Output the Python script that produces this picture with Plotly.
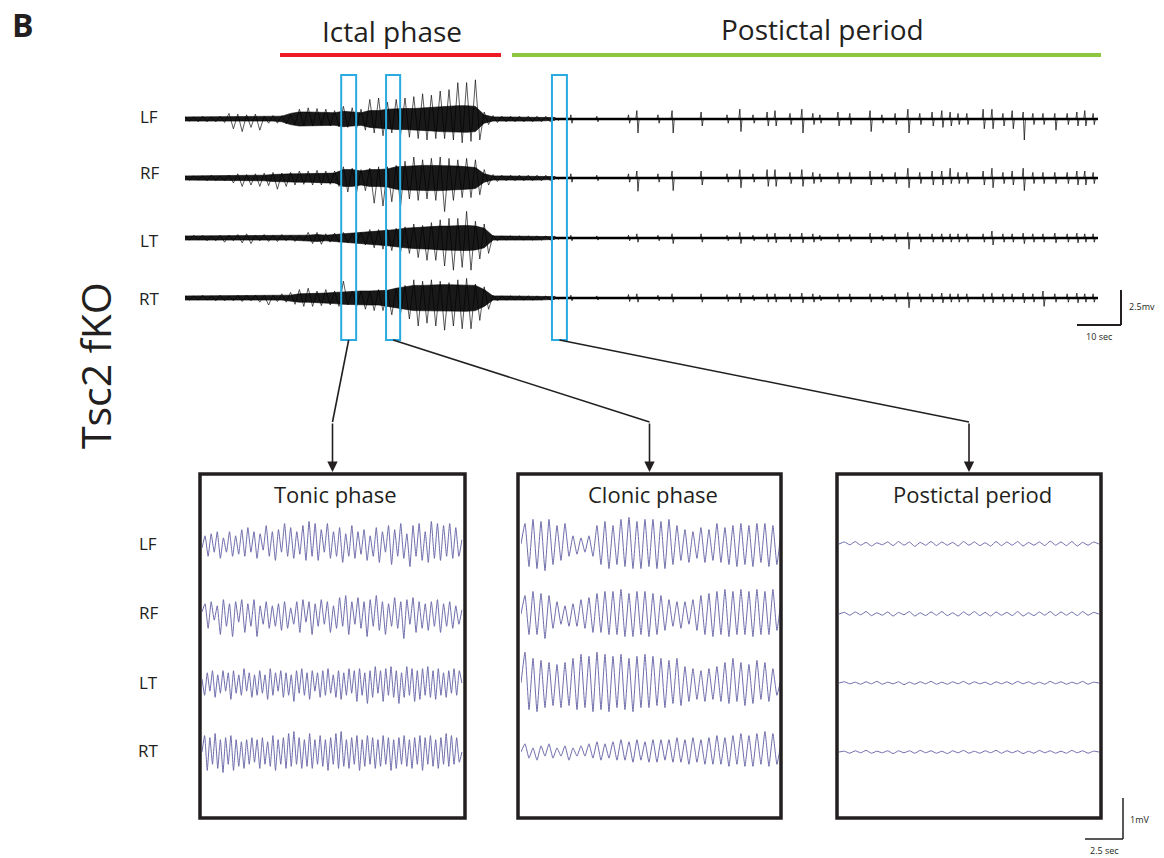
import numpy as np
import plotly.graph_objects as go

# ---------------- DATA ----------------
channels = ["LF", "RF", "LT", "RT"]

# Top overview: envelope of the dense EEG (mV) on a 2-s grid, 0..84 s
env_t = np.arange(0, 86, 2)
# spike extremes (up / down) per 2-s bin
env_LF_up = [.15,.15,.2,.15,.2,.4,.35,.3,.35,.2,.25,.25,.3,.7,.8,.75,.7,.6,.9,.8,.7,1.4,1.5,1.2,1.4,1.5,1.6,1.8,1.7,2.0,2.1,2.6,2.6,2.8,.5,.25,.2,.2,.2,.2,.2,.2,.12]
env_LF_dn = [.15,.2,.2,.2,.25,.7,.9,.6,.8,.3,.3,.35,.4,.5,.5,.45,.5,.55,.6,.65,.8,1.0,1.2,1.0,1.1,1.3,1.4,1.5,1.4,1.4,1.5,1.7,1.6,1.5,.4,.25,.2,.2,.2,.2,.2,.2,.12]
env_RF_up = [.15,.15,.15,.2,.15,.2,.3,.25,.3,.35,.4,.35,.4,.5,.5,.55,.5,.5,.8,.7,.6,.7,.8,.8,.9,1.2,1.5,1.3,1.4,1.5,1.4,1.3,1.4,1.3,.6,.25,.2,.2,.2,.2,.2,.2,.12]
env_RF_dn = [.15,.15,.2,.2,.2,.35,.6,.5,.6,.55,.8,.6,.5,.45,.5,.5,.45,.6,1.0,1.0,.9,1.8,2.0,1.7,2.0,1.5,1.6,1.5,1.6,2.4,1.6,1.4,1.4,1.2,.5,.25,.2,.2,.2,.2,.2,.2,.12]
env_LT_up = [.15,.2,.2,.15,.2,.2,.25,.3,.2,.25,.2,.25,.2,.2,.4,.4,.3,.35,.4,.3,.4,.6,.6,.6,.7,.8,1.0,.9,1.1,1.3,1.4,1.4,1.9,1.2,1.0,.2,.15,.15,.15,.15,.15,.15,.12]
env_LT_dn = [.15,.15,.2,.2,.3,.2,.35,.4,.2,.25,.25,.2,.25,.2,.4,.45,.3,.3,.35,.4,.5,.7,.8,.9,1.0,1.1,1.4,1.6,1.6,2.0,2.3,2.1,2.3,1.5,1.1,.2,.15,.15,.15,.15,.15,.15,.12]
env_RT_up = [.15,.15,.2,.15,.2,.15,.2,.2,.2,.2,.2,.3,.4,.6,.7,.5,.6,.5,1.2,.5,.5,.5,.6,.5,.7,.9,1.3,1.2,1.3,1.2,1.1,1.3,1.4,1.0,.8,.2,.15,.15,.15,.15,.15,.15,.12]
env_RT_dn = [.15,.15,.15,.2,.2,.2,.25,.2,.3,.5,.25,.3,.45,.6,.6,.55,.5,.6,.5,.6,.8,.9,.9,1.2,1.1,1.5,2.0,1.8,2.0,2.3,2.0,2.2,2.2,1.6,.8,.2,.15,.15,.15,.15,.15,.15,.12]
# half-width of the dense (solid black) core per 2-s bin
core_LF = [.15,.15,.15,.15,.15,.2,.2,.2,.2,.15,.15,.2,.4,.5,.5,.5,.45,.45,.55,.5,.45,.6,.6,.7,.75,.75,.75,.8,.85,.9,.9,.95,.95,.9,.3,.15,.15,.15,.15,.15,.15,.15,.1]
core_RF = [.15,.15,.15,.15,.15,.15,.2,.2,.2,.2,.25,.3,.3,.3,.3,.3,.35,.35,.6,.6,.5,.6,.6,.65,.8,.85,.85,.9,.9,.9,.85,.85,.8,.75,.3,.15,.15,.15,.15,.15,.15,.15,.1]
core_LT = [.15,.15,.15,.15,.15,.15,.15,.15,.15,.15,.15,.15,.15,.2,.2,.25,.2,.25,.3,.3,.35,.45,.5,.55,.6,.7,.75,.8,.8,.85,.85,.9,.9,.85,.7,.15,.15,.15,.15,.15,.15,.15,.1]
core_RT = [.15,.15,.15,.15,.15,.15,.15,.15,.15,.15,.15,.15,.2,.3,.3,.3,.35,.4,.45,.45,.5,.5,.5,.55,.7,.8,.9,.9,.95,.95,.95,.95,.95,.9,.6,.15,.15,.15,.15,.15,.15,.15,.1]

record_end_s = 207.5

# Postictal interictal spikes (s) and their up / down extents (mV)
spk_t = [87.7, 93.6, 100.8, 102.7, 107.5, 110.7, 117.3, 123.2, 126.1, 129.1, 132.3, 134.1, 137.5, 140.2,
         142.7, 144.3, 148.4, 151.1, 155.7, 158.4, 161.4, 164.3, 167.0, 169.8, 172.0, 173.9, 175.7, 177.7,
         181.4, 183.4, 185.9, 188.0, 190.5, 192.7, 195.0, 197.7, 200.5, 202.7, 204.5, 206.4]
spk_LF_up = [.3,.2,.3,.6,.3,.6,.5,.3,.7,.3,.5,.6,.4,.7,.4,.3,.5,.4,.6,.3,.4,.7,.4,.5,.6,.5,.4,.4,.7,.7,.4,.6,.5,.4,.4,.4,.4,.5,.6,.4]
spk_LF_dn = [.3,.2,.3,1.0,.3,1.0,.5,.3,.9,.3,.5,.5,.4,1.0,.4,.3,.5,.4,.9,.3,.4,1.0,.4,.5,.6,.5,.4,.4,.7,.7,.5,.7,1.5,.4,.4,.8,.4,.5,.5,.4]
spk_RF_up = [.3,.2,.3,.5,.3,.5,.5,.3,.6,.3,.6,.6,.4,.6,.4,.3,.4,.4,.5,.3,.4,.7,.4,.5,.5,.7,.4,.4,.5,.7,.4,.5,.7,.4,.4,.4,.4,.5,.5,.4]
spk_RF_dn = [.3,.2,.3,.95,.3,.9,.5,.3,.7,.3,.6,.6,.4,.6,.4,.3,.4,.4,.5,.3,.4,.7,.4,.5,.5,.4,.4,.4,.5,.7,.4,.5,.9,.4,.4,.4,.4,.5,.5,.4]
spk_LT_up = [.2,.15,.2,.3,.2,.3,.3,.2,.4,.2,.3,.35,.3,.35,.3,.2,.3,.25,.35,.2,.3,.4,.3,.3,.3,.3,.3,.3,.3,.5,.3,.3,.35,.3,.3,.35,.3,.35,.3,.3]
spk_LT_dn = [.2,.15,.2,.3,.2,.4,.3,.2,.4,.2,.3,.35,.3,.35,.3,.2,.3,.25,.35,.2,.3,.8,.3,.3,.3,.3,.3,.3,.3,.5,.3,.3,.4,.3,.3,.35,.3,.35,.3,.3]
spk_RT_up = [.2,.15,.25,.3,.2,.3,.3,.25,.35,.2,.3,.3,.3,.35,.3,.2,.3,.3,.3,.2,.3,.4,.3,.3,.35,.3,.3,.3,.3,.35,.3,.3,.35,.3,.5,.3,.3,.35,.3,.3]
spk_RT_dn = [.2,.15,.25,.3,.2,.3,.3,.25,.35,.2,.3,.3,.3,.35,.3,.2,.3,.3,.3,.2,.3,.7,.3,.3,.35,.3,.3,.3,.3,.35,.3,.3,.35,.3,.6,.3,.3,.35,.3,.3]

# Zoom windows (s) shown by the blue boxes
zoom_windows = [(35.5, 38.9), (45.7, 48.9), (83.4, 86.8)]
panel_titles = ["Tonic phase", "Clonic phase", "Postictal period"]

# Expanded windows: alternating peak / trough values (mV) over 17.1 s
window_len_s = 17.1
tonic_LF = [-0.1,0.2,-0.3,0.25,-0.2,0.3,-0.35,0.15,-0.2,0.3,-0.3,0.2,-0.25,0.35,-0.3,0.4,-0.2,0.3,-0.35,0.25,-0.15,0.45,-0.3,0.3,-0.4,0.35,-0.2,0.5,-0.3,0.4,-0.35,0.3,-0.25,0.45,-0.4,0.55,-0.3,0.5,-0.4,0.35,-0.2,0.5,-0.35,0.3,-0.3,0.4,-0.45,0.25,-0.3,0.45,-0.35,0.3,-0.25,0.35,-0.4,0.2,-0.3,0.4,-0.45,0.3,-0.2,0.45,-0.5,0.35,-0.3,0.5,-0.35,0.25,-0.55,0.45,-0.3,0.5,-0.4,0.3,-0.45,0.55,-0.35,0.5,-0.4,0.45,-0.3,0.5,-0.35,0.4,-0.3,0.1]
tonic_RF = [0.05,0.25,-0.35,0.3,-0.15,0.2,-0.5,0.35,-0.3,0.25,-0.55,0.3,-0.2,0.35,-0.45,0.25,-0.3,0.35,-0.55,0.2,-0.25,0.3,-0.35,0.2,-0.3,0.25,-0.4,0.3,-0.35,0.15,-0.25,0.3,-0.45,0.35,-0.2,0.3,-0.5,0.25,-0.3,0.35,-0.25,0.3,-0.45,0.2,-0.35,0.4,-0.3,0.45,-0.5,0.3,-0.25,0.4,-0.35,0.3,-0.55,0.35,-0.3,0.45,-0.4,0.3,-0.5,0.25,-0.3,0.4,-0.35,0.3,-0.6,0.35,-0.25,0.4,-0.45,0.3,-0.35,0.25,-0.4,0.3,-0.3,0.35,-0.45,0.25,-0.3,0.3,-0.35,0.2,-0.25,0.1]
tonic_LT = [0.1,-0.3,0.25,-0.2,0.3,-0.35,0.2,-0.25,0.3,-0.2,0.25,-0.4,0.3,-0.25,0.2,-0.3,0.35,-0.2,0.25,-0.35,0.2,-0.3,0.3,-0.25,0.2,-0.4,0.35,-0.3,0.25,-0.2,0.3,-0.35,0.25,-0.3,0.2,-0.45,0.3,-0.25,0.35,-0.3,0.25,-0.4,0.3,-0.2,0.25,-0.35,0.3,-0.3,0.35,-0.25,0.2,-0.35,0.3,-0.4,0.25,-0.3,0.35,-0.25,0.3,-0.45,0.35,-0.3,0.25,-0.5,0.3,-0.35,0.4,-0.25,0.3,-0.45,0.35,-0.3,0.4,-0.35,0.3,-0.5,0.25,-0.35,0.4,-0.3,0.35,-0.45,0.3,-0.4,0.35,-0.3,0.4,-0.35,0.3,-0.4,0.35,-0.3,0.25,-0.35,0.3,-0.25,0.35,-0.3,0.3,0.0]
tonic_RT = [0.0,0.4,-0.45,0.35,-0.3,0.45,-0.4,0.3,-0.5,0.35,-0.3,0.4,-0.45,0.3,-0.35,0.25,-0.4,0.3,-0.3,0.35,-0.25,0.3,-0.4,0.35,-0.3,0.25,-0.35,0.4,-0.45,0.3,-0.3,0.35,-0.4,0.45,-0.35,0.5,-0.3,0.35,-0.4,0.3,-0.35,0.45,-0.4,0.3,-0.3,0.4,-0.35,0.3,-0.45,0.35,-0.3,0.45,-0.4,0.5,-0.35,0.3,-0.4,0.35,-0.3,0.4,-0.45,0.3,-0.35,0.4,-0.3,0.35,-0.4,0.3,-0.35,0.4,-0.3,0.35,-0.45,0.3,-0.4,0.35,-0.3,0.4,-0.35,0.3,-0.4,0.35,-0.3,0.4,-0.45,0.35,-0.3,0.4,-0.35,0.3,-0.4,0.35,-0.3,0.45,-0.35,0.4,-0.3,0.35,-0.25,0.0]
clonic_LF = [0.0,0.5,-0.55,0.6,-0.6,0.55,-0.65,0.6,-0.5,0.45,-0.4,0.5,-0.3,0.2,-0.25,0.15,-0.2,0.2,-0.3,0.45,-0.5,0.55,-0.6,0.45,-0.5,0.6,-0.55,0.65,-0.6,0.55,-0.6,0.6,-0.55,0.6,-0.6,0.55,-0.6,0.6,-0.5,0.45,-0.4,0.35,-0.45,0.3,-0.35,0.4,-0.45,0.35,-0.4,0.5,-0.45,0.4,-0.5,0.45,-0.55,0.5,-0.5,0.45,-0.55,0.5,-0.45,0.5,-0.55,0.45,-0.5,0.3]
clonic_RF = [0.0,0.45,-0.5,0.55,-0.5,0.5,-0.6,0.45,-0.35,0.3,-0.25,0.2,-0.3,0.25,-0.3,0.35,-0.35,0.4,-0.45,0.5,-0.45,0.55,-0.5,0.55,-0.5,0.6,-0.55,0.5,-0.55,0.55,-0.5,0.55,-0.55,0.5,-0.5,0.45,-0.4,0.35,-0.3,0.3,-0.35,0.3,-0.25,0.35,-0.4,0.45,-0.5,0.5,-0.55,0.55,-0.5,0.6,-0.55,0.55,-0.5,0.6,-0.5,0.55,-0.55,0.6,-0.5,0.55,-0.5,0.6,-0.4,0.3]
clonic_LT = [0.0,0.75,-0.65,0.6,-0.7,0.55,-0.6,0.5,-0.55,0.45,-0.6,0.5,-0.55,0.6,-0.65,0.7,-0.6,0.65,-0.7,0.75,-0.65,0.7,-0.7,0.65,-0.6,0.7,-0.65,0.6,-0.7,0.65,-0.6,0.7,-0.6,0.65,-0.55,0.6,-0.6,0.55,-0.5,0.6,-0.55,0.4,-0.45,0.35,-0.4,0.3,-0.45,0.35,-0.4,0.4,-0.45,0.5,-0.5,0.6,-0.45,0.5,-0.55,0.45,-0.5,0.55,-0.4,0.5,-0.45,0.35,-0.3,0.1]
clonic_RT = [0.0,0.2,-0.15,0.1,-0.2,0.15,-0.1,0.2,-0.15,0.1,-0.1,0.15,-0.2,0.1,-0.1,0.15,-0.1,0.2,-0.15,0.25,-0.2,0.2,-0.15,0.25,-0.2,0.3,-0.2,0.25,-0.25,0.3,-0.2,0.25,-0.25,0.3,-0.25,0.3,-0.2,0.3,-0.25,0.35,-0.25,0.3,-0.3,0.35,-0.25,0.3,-0.3,0.35,-0.3,0.4,-0.3,0.35,-0.35,0.4,-0.3,0.45,-0.35,0.4,-0.35,0.45,-0.3,0.5,-0.35,0.45,-0.3,0.2]
post_LF = [0.0,0.05,-0.02,0.06,-0.03,0.04,-0.05,0.03,-0.02,0.05,-0.04,0.06,-0.03,0.05,-0.06,0.04,-0.03,0.06,-0.04,0.05,-0.03,0.04,-0.05,0.06,-0.03,0.05,-0.04,0.03,-0.05,0.06,-0.04,0.05,-0.03,0.06,-0.05,0.04,-0.03,0.05,-0.04,0.07,-0.03,0.05,-0.04,0.06,-0.05,0.04,-0.03,0.05,0.0]
post_RF = [0.0,0.04,-0.03,0.05,-0.02,0.06,-0.04,0.03,-0.03,0.05,-0.05,0.04,-0.02,0.06,-0.05,0.03,-0.04,0.05,-0.03,0.06,-0.04,0.03,-0.05,0.05,-0.03,0.06,-0.04,0.04,-0.05,0.05,-0.03,0.04,-0.04,0.06,-0.05,0.03,-0.04,0.05,-0.03,0.06,-0.04,0.05,-0.03,0.05,-0.04,0.06,-0.03,0.04,0.0]
post_LT = [0.0,0.03,-0.02,0.02,-0.03,0.03,-0.02,0.04,-0.03,0.02,-0.02,0.03,-0.04,0.02,-0.03,0.03,-0.02,0.04,-0.03,0.02,-0.03,0.03,-0.02,0.04,-0.03,0.03,-0.02,0.02,-0.04,0.03,-0.02,0.03,-0.03,0.04,-0.02,0.03,-0.03,0.02,-0.03,0.04,-0.02,0.03,-0.03,0.02,-0.02,0.04,-0.03,0.02,0.0]
post_RT = [0.0,0.02,-0.03,0.03,-0.02,0.04,-0.03,0.02,-0.02,0.03,-0.04,0.03,-0.02,0.03,-0.03,0.04,-0.02,0.03,-0.03,0.02,-0.04,0.03,-0.02,0.04,-0.03,0.02,-0.03,0.03,-0.02,0.04,-0.03,0.03,-0.02,0.03,-0.04,0.02,-0.03,0.04,-0.02,0.03,-0.03,0.02,-0.03,0.04,-0.02,0.03,-0.03,0.02,0.0]

# ---------------- LAYOUT HELPERS ----------------
W, H = 1164, 858
TOP_PX_PER_S, TOP_PX_PER_MV = 4.4, 14.0
BOT_PX_PER_S, BOT_PX_PER_MV = 15.2, 41.0
TOP_X0 = 185
TOP_BASE_PX = [119, 178, 238, 298]
BOT_BASE_PX = [544, 614, 683, 752]
PANEL_X0 = [202, 521, 839]
PANEL_BOX = [(200, 465), (518, 781), (837, 1101)]
PANEL_Y = (474, 818)
TXT = "#231F20"
FONT = "Open Sans"
TRACE_COL = "#6E6CAB"


def fx(p):
    return p / W


def fy(p):
    return 1 - p / H


fig = go.Figure()

top_env = {"LF": (env_LF_up, env_LF_dn, core_LF), "RF": (env_RF_up, env_RF_dn, core_RF),
           "LT": (env_LT_up, env_LT_dn, core_LT), "RT": (env_RT_up, env_RT_dn, core_RT)}
top_spk = {"LF": (spk_LF_up, spk_LF_dn), "RF": (spk_RF_up, spk_RF_dn),
           "LT": (spk_LT_up, spk_LT_dn), "RT": (spk_RT_up, spk_RT_dn)}

for ch, bpx in zip(channels, TOP_BASE_PX):
    off = (H - bpx) / TOP_PX_PER_MV
    up, dn, core = (np.array(v) for v in top_env[ch])
    # spiky excursions (zigzag through bin extremes)
    zx, zy = [], []
    for t, u, d in zip(env_t, up, dn):
        zx += [t, t + 1]
        zy += [off + u, off - d]
    fig.add_trace(go.Scatter(x=zx, y=zy, mode="lines", line=dict(color="rgba(0,0,0,0.72)", width=0.9),
                             hoverinfo="skip", xaxis="x", yaxis="y"))
    # dense core
    fig.add_trace(go.Scatter(x=list(env_t) + list(env_t[::-1]),
                             y=list(off + core) + list((off - core)[::-1]),
                             fill="toself", fillcolor="rgba(0,0,0,0.9)",
                             line=dict(width=0.6, color="black"), mode="lines", hoverinfo="skip",
                             xaxis="x", yaxis="y"))
    # postictal baseline
    fig.add_trace(go.Scatter(x=[env_t[-1], record_end_s], y=[off, off], mode="lines",
                             line=dict(color="black", width=2.4), hoverinfo="skip",
                             xaxis="x", yaxis="y"))
    # spikes
    sx, sy = [], []
    for t, u, d in zip(spk_t, *top_spk[ch]):
        sx += [t - 0.25, t, t + 0.25, t + 0.5, None]
        sy += [off, off + u, off - d, off, None]
    fig.add_trace(go.Scatter(x=sx, y=sy, mode="lines", line=dict(color="rgba(0,0,0,0.7)", width=1),
                             hoverinfo="skip", xaxis="x", yaxis="y", connectgaps=False))

bottom = [
    {"LF": tonic_LF, "RF": tonic_RF, "LT": tonic_LT, "RT": tonic_RT},
    {"LF": clonic_LF, "RF": clonic_RF, "LT": clonic_LT, "RT": clonic_RT},
    {"LF": post_LF, "RF": post_RF, "LT": post_LT, "RT": post_RT},
]
xnames = ["x2", "x3", "x4"]
for k, panel in enumerate(bottom):
    for ch, bpx in zip(channels, BOT_BASE_PX):
        off = (H - bpx) / BOT_PX_PER_MV
        vals = np.array(panel[ch])
        tt = np.linspace(0, window_len_s, len(vals))
        fig.add_trace(go.Scatter(x=tt, y=off + vals, mode="lines",
                                 line=dict(color=TRACE_COL, width=1, shape="spline", smoothing=0.4),
                                 hoverinfo="skip", xaxis=xnames[k], yaxis="y2"))

shapes = []
annotations = []


def label(x, y, text, size, **kw):
    d = dict(xref="paper", yref="paper", x=fx(x), y=fy(y), text=text, showarrow=False,
             xanchor="center", yanchor="middle", font=dict(family=FONT, size=size, color=TXT))
    d.update(kw)
    annotations.append(d)


# Phase bars
shapes.append(dict(type="line", xref="paper", yref="paper", x0=fx(280), x1=fx(501), y0=fy(55), y1=fy(55),
                   line=dict(color="#ED1C24", width=4)))
shapes.append(dict(type="line", xref="paper", yref="paper", x0=fx(512), x1=fx(1101), y0=fy(55), y1=fy(55),
                   line=dict(color="#8DC63F", width=4)))

# Blue zoom boxes + arrows + panels
for k, (a, b) in enumerate(zoom_windows):
    shapes.append(dict(type="rect", xref="x", yref="paper", x0=a, x1=b, y0=fy(340), y1=fy(75),
                       line=dict(color="#29ABE2", width=2), fillcolor="rgba(0,0,0,0)"))
    start_px = TOP_X0 + (a + b) / 2 * TOP_PX_PER_S
    cx = (PANEL_BOX[k][0] + PANEL_BOX[k][1]) / 2
    shapes.append(dict(type="line", xref="paper", yref="paper", x0=fx(start_px), y0=fy(340),
                       x1=fx(cx), y1=fy(422), line=dict(color=TXT, width=1.6)))
    annotations.append(dict(xref="paper", yref="paper", x=fx(cx), y=fy(472), ax=0, ay=-50,
                            axref="pixel", ayref="pixel", showarrow=True, arrowhead=2,
                            arrowsize=1.3, arrowwidth=1.6, arrowcolor=TXT, text=""))
    shapes.append(dict(type="rect", xref="paper", yref="paper", x0=fx(PANEL_BOX[k][0]), x1=fx(PANEL_BOX[k][1]),
                       y0=fy(PANEL_Y[1]), y1=fy(PANEL_Y[0]), line=dict(color=TXT, width=3.5),
                       fillcolor="rgba(0,0,0,0)"))
    label(cx + 3, 494, panel_titles[k], 22)

# Top scale bar (10 s, 2.5 mV)
sb_t0 = (1077 - TOP_X0) / TOP_PX_PER_S
sb_y0 = (H - 325) / TOP_PX_PER_MV
shapes.append(dict(type="line", xref="x", yref="y", x0=sb_t0, x1=sb_t0 + 10, y0=sb_y0, y1=sb_y0,
                   line=dict(color=TXT, width=2)))
shapes.append(dict(type="line", xref="x", yref="y", x0=sb_t0 + 10, x1=sb_t0 + 10, y0=sb_y0, y1=sb_y0 + 2.5,
                   line=dict(color=TXT, width=2)))
label(1127, 306, "2.5mv", 9, xanchor="left")
label(1099, 336, "10 sec", 9)

# Bottom scale bar (2.5 s, 1 mV)
bb_t0 = (1085 - PANEL_X0[2]) / BOT_PX_PER_S
bb_y0 = (H - 839) / BOT_PX_PER_MV
shapes.append(dict(type="line", xref="x4", yref="y2", x0=bb_t0, x1=bb_t0 + 2.5, y0=bb_y0, y1=bb_y0,
                   line=dict(color=TXT, width=1.5)))
shapes.append(dict(type="line", xref="x4", yref="y2", x0=bb_t0 + 2.5, x1=bb_t0 + 2.5, y0=bb_y0, y1=bb_y0 + 1,
                   line=dict(color=TXT, width=1.5)))
label(1128, 819, "1mV", 9, xanchor="left")
label(1104, 850, "2.5 sec", 9)

# Texts
label(23, 25, "<b>B</b>", 32)
label(392, 31, "Ictal phase", 28)
label(822, 29, "Postictal period", 28)
label(95, 366, "Tsc2 fKO", 41, textangle=-90)
for ch, p in zip(channels, [117, 172, 240, 298]):
    label(149, p, ch, 17)
for ch, p in zip(channels, [543, 612, 682, 750]):
    label(148, p, ch, 17)

axis_off = dict(visible=False, showgrid=False, zeroline=False, fixedrange=True)
layout = dict(
    width=W, height=H, autosize=False, showlegend=False,
    margin=dict(l=0, r=0, t=0, b=0, pad=0),
    paper_bgcolor="white", plot_bgcolor="rgba(0,0,0,0)",
    xaxis=dict(domain=[fx(TOP_X0), fx(1130)], range=[0, (1130 - TOP_X0) / TOP_PX_PER_S], anchor="y", **axis_off),
    yaxis=dict(domain=[0, 1], range=[0, H / TOP_PX_PER_MV], anchor="x", **axis_off),
    yaxis2=dict(domain=[0, 1], range=[0, H / BOT_PX_PER_MV], anchor="x2", **axis_off),
    shapes=shapes, annotations=annotations,
)
for k, xn in enumerate(xnames):
    key = "xaxis" + xn[1:]
    layout[key] = dict(domain=[fx(PANEL_X0[k]), fx(PANEL_X0[k] + 300)], range=[0, 300 / BOT_PX_PER_S],
                       anchor="y2", **axis_off)
fig.update_layout(**layout)
fig.write_html("out.html", config={"displayModeBar": False},
               post_script="document.body.style.margin='0px';")
